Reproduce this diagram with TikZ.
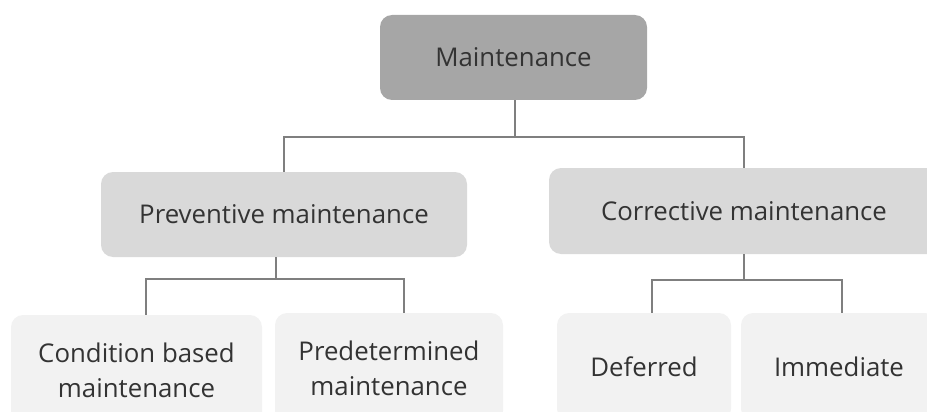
\documentclass[tikz,border=0pt]{standalone}
\usepackage{fontspec}
\setmainfont{Open Sans}
\usetikzlibrary{calc}
\definecolor{topfill}{HTML}{A6A6A6}
\definecolor{midfill}{HTML}{D9D9D9}
\definecolor{lowfill}{HTML}{F2F2F2}
\definecolor{linecol}{HTML}{7F7F7F}
\definecolor{txtcol}{HTML}{333333}
\tikzset{
  boxbase/.style={rounded corners=12pt, inner sep=0pt, align=center,
    text=txtcol, font=\fontsize{25.8}{35}\selectfont},
  topbox/.style={boxbase, fill=topfill},
  midbox/.style={boxbase, fill=midfill},
  lowbox/.style={boxbase, fill=lowfill},
  conn/.style={draw=linecol, line width=2.4pt}
}
\begin{document}
\begin{tikzpicture}[x=1pt,y=-1pt]
\useasboundingbox (0,0) rectangle (927,412);
\clip (0,0) rectangle (927,412);
\node[topbox, minimum width=267pt, minimum height=85pt] (m) at (513.5,57.5) {Maintenance};
\node[midbox, minimum width=366pt, minimum height=85pt] (pv) at (284,214.5) {Preventive maintenance};
\node[midbox, minimum width=390pt, minimum height=86pt] (cv) at (744,211) {Corrective maintenance};
\node[lowbox, minimum width=251pt, minimum height=110pt] (cb) at (136.5,370) {Condition based\\maintenance};
\node[lowbox, minimum width=228pt, minimum height=110pt] (pd) at (389,368) {Predetermined\\maintenance};
\node[lowbox, minimum width=174pt, minimum height=108pt] (df) at (644,367) {Deferred};
\node[lowbox, minimum width=196pt, minimum height=108pt] (im) at (839,367) {Immediate};
\draw[conn] ([xshift=1.5pt]m.south) -- ++(0,37) -| (pv.north);
\draw[conn] ([xshift=1.5pt]m.south) -- ++(0,37) -| (cv.north);
\draw[conn] ([xshift=-8pt]pv.south) -- ++(0,22) -| ([xshift=9.5pt]cb.north);
\draw[conn] ([xshift=-8pt]pv.south) -- ++(0,22) -| ([xshift=15pt]pd.north);
\draw[conn] (cv.south) -- ++(0,26) -| ([xshift=8pt]df.north);
\draw[conn] (cv.south) -- ++(0,26) -| ([xshift=3pt]im.north);
\end{tikzpicture}
\end{document}
